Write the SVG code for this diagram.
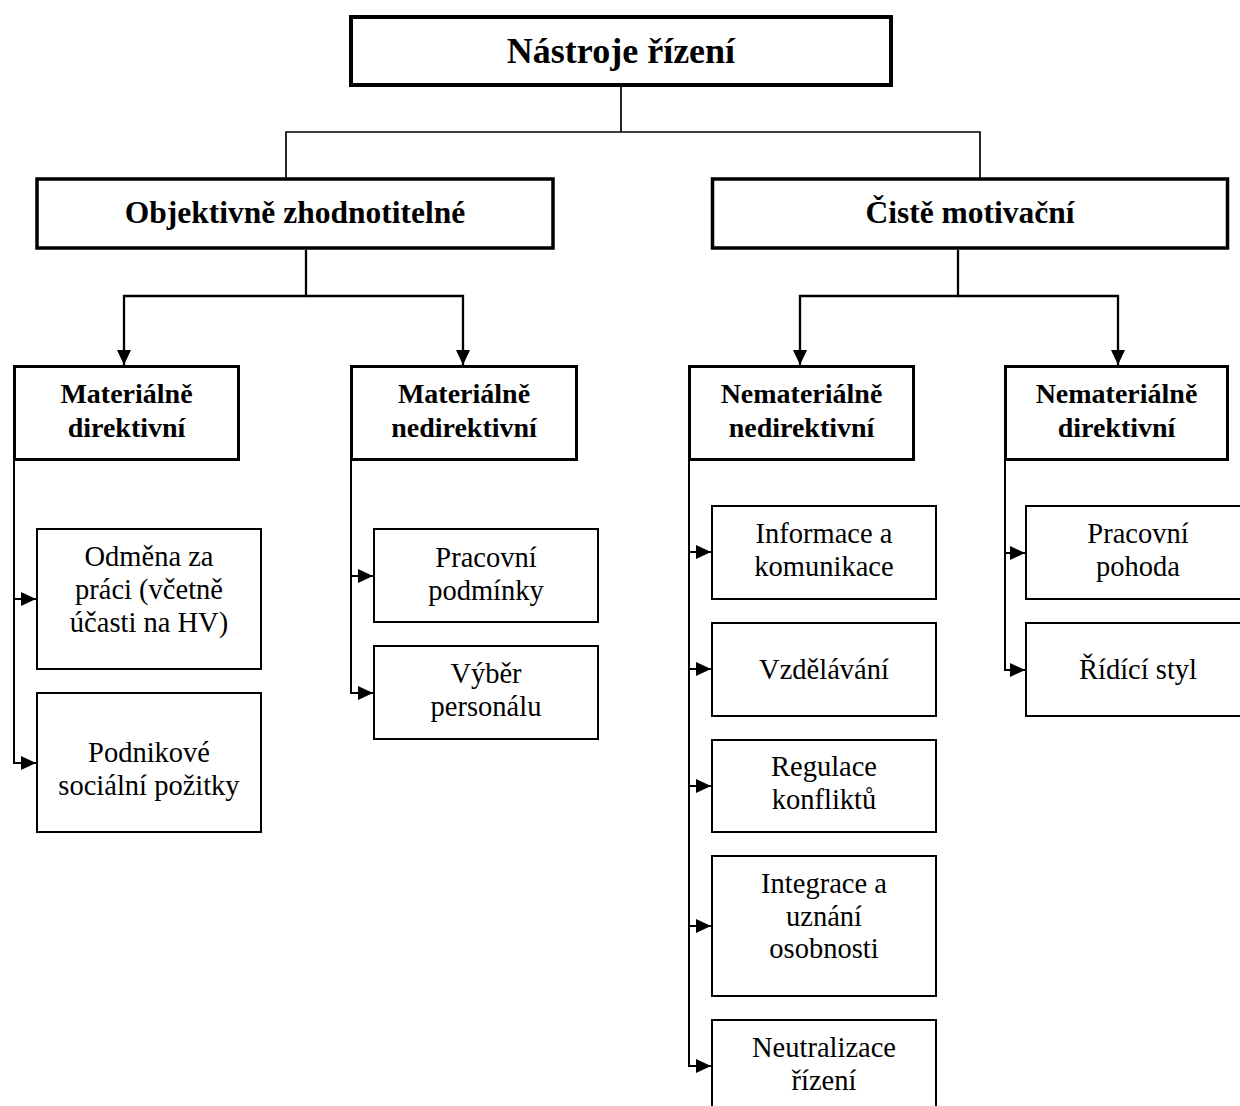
<svg xmlns="http://www.w3.org/2000/svg" width="1240" height="1106" viewBox="0 0 1240 1106">
  <style>
    .box { fill: #ffffff; stroke: #000000; }
    .root { stroke-width: 4; }
    .l1 { stroke-width: 3.5; }
    .l2 { stroke-width: 3; }
    .leaf { stroke-width: 2; }
    text { font-family: "Liberation Serif", "Times New Roman", serif; fill: #000000; text-anchor: middle; }
    .t0 { font-size: 36px; font-weight: bold; }
    .t1 { font-size: 31.5px; font-weight: bold; }
    .t2 { font-size: 28px; font-weight: bold; }
    .t3 { font-size: 28.5px; }
    .wire { fill: none; stroke: #000000; stroke-width: 2; }
    .thin { stroke-width: 1.7; }
    .mid { stroke-width: 2.3; }
  </style>
  <defs>
    <marker id="arrow" markerUnits="userSpaceOnUse" markerWidth="15" markerHeight="14" refX="15" refY="7" orient="auto">
      <path d="M0,0 L15,7 L0,14 z" fill="#000000"/>
    </marker>
  </defs>

  <rect width="1240" height="1106" fill="#ffffff"/>

  <!-- connectors -->
  <g id="connectors">
    <path class="wire thin" d="M621 87 V132 M286 178 V132 H980 V178"/>
    <path class="wire mid" d="M306 250 V296 H124 V365" marker-end="url(#arrow)"/>
    <path class="wire mid" d="M306 296 H463 V365" marker-end="url(#arrow)"/>
    <path class="wire mid" d="M958 250 V296 H800 V365" marker-end="url(#arrow)"/>
    <path class="wire mid" d="M958 296 H1118 V365" marker-end="url(#arrow)"/>

    <path class="wire" d="M14 461 V763 H36" marker-end="url(#arrow)"/>
    <path class="wire" d="M14 599 H36" marker-end="url(#arrow)"/>

    <path class="wire" d="M351 461 V693 H373" marker-end="url(#arrow)"/>
    <path class="wire" d="M351 576 H373" marker-end="url(#arrow)"/>

    <path class="wire" d="M689 461 V1066 H711" marker-end="url(#arrow)"/>
    <path class="wire" d="M689 552 H711" marker-end="url(#arrow)"/>
    <path class="wire" d="M689 669 H711" marker-end="url(#arrow)"/>
    <path class="wire" d="M689 786 H711" marker-end="url(#arrow)"/>
    <path class="wire" d="M689 926 H711" marker-end="url(#arrow)"/>

    <path class="wire" d="M1005 461 V670 H1025" marker-end="url(#arrow)"/>
    <path class="wire" d="M1005 553 H1025" marker-end="url(#arrow)"/>
  </g>

  <!-- root -->
  <g id="nastroje-rizeni">
    <rect class="box root" x="351" y="17" width="540" height="68"/>
    <text class="t0" x="621" y="63">Nástroje řízení</text>
  </g>

  <!-- first level -->
  <g id="objektivne-zhodnotitelne">
    <rect class="box l1" x="37" y="179" width="516" height="69"/>
    <text class="t1" x="295" y="223">Objektivně zhodnotitelné</text>
  </g>
  <g id="ciste-motivacni">
    <rect class="box l1" x="712.5" y="179" width="515" height="69"/>
    <text class="t1" x="970" y="223">Čistě motivační</text>
  </g>

  <!-- second level -->
  <g id="materialne-direktivni">
    <rect class="box l2" x="14.5" y="366.5" width="224" height="93"/>
    <text class="t2" x="126.5" y="403">Materiálně</text>
    <text class="t2" x="126.5" y="437">direktivní</text>
  </g>
  <g id="materialne-nedirektivni">
    <rect class="box l2" x="351.5" y="366.5" width="225" height="93"/>
    <text class="t2" x="464" y="403">Materiálně</text>
    <text class="t2" x="464" y="437">nedirektivní</text>
  </g>
  <g id="nematerialne-nedirektivni">
    <rect class="box l2" x="689.5" y="366.5" width="224" height="93"/>
    <text class="t2" x="801.5" y="403">Nemateriálně</text>
    <text class="t2" x="801.5" y="437">nedirektivní</text>
  </g>
  <g id="nematerialne-direktivni">
    <rect class="box l2" x="1005.5" y="366.5" width="222" height="93"/>
    <text class="t2" x="1116.5" y="403">Nemateriálně</text>
    <text class="t2" x="1116.5" y="437">direktivní</text>
  </g>

  <!-- leaves -->
  <g id="odmena-za-praci">
    <rect class="box leaf" x="37" y="529" width="224" height="140"/>
    <text class="t3" x="149" y="566">Odměna za</text>
    <text class="t3" x="149" y="599">práci (včetně</text>
    <text class="t3" x="149" y="632">účasti na HV)</text>
  </g>
  <g id="podnikove-socialni-pozitky">
    <rect class="box leaf" x="37" y="693" width="224" height="139"/>
    <text class="t3" x="149" y="762">Podnikové</text>
    <text class="t3" x="149" y="795">sociální požitky</text>
  </g>
  <g id="pracovni-podminky">
    <rect class="box leaf" x="374" y="529" width="224" height="93"/>
    <text class="t3" x="486" y="567">Pracovní</text>
    <text class="t3" x="486" y="600">podmínky</text>
  </g>
  <g id="vyber-personalu">
    <rect class="box leaf" x="374" y="646" width="224" height="93"/>
    <text class="t3" x="486" y="683">Výběr</text>
    <text class="t3" x="486" y="716">personálu</text>
  </g>
  <g id="informace-a-komunikace">
    <rect class="box leaf" x="712" y="506" width="224" height="93"/>
    <text class="t3" x="824" y="543">Informace a</text>
    <text class="t3" x="824" y="576">komunikace</text>
  </g>
  <g id="vzdelavani">
    <rect class="box leaf" x="712" y="623" width="224" height="93"/>
    <text class="t3" x="824" y="679">Vzdělávání</text>
  </g>
  <g id="regulace-konfliktu">
    <rect class="box leaf" x="712" y="740" width="224" height="92"/>
    <text class="t3" x="824" y="776">Regulace</text>
    <text class="t3" x="824" y="809">konfliktů</text>
  </g>
  <g id="integrace-a-uznani-osobnosti">
    <rect class="box leaf" x="712" y="856" width="224" height="140"/>
    <text class="t3" x="824" y="893">Integrace a</text>
    <text class="t3" x="824" y="926">uznání</text>
    <text class="t3" x="824" y="958">osobnosti</text>
  </g>
  <g id="neutralizace-rizeni">
    <rect class="box leaf" x="712" y="1020" width="224" height="93"/>
    <text class="t3" x="824" y="1057">Neutralizace</text>
    <text class="t3" x="824" y="1090">řízení</text>
  </g>
  <g id="pracovni-pohoda">
    <rect class="box leaf" x="1026" y="506" width="224" height="93"/>
    <text class="t3" x="1138" y="543">Pracovní</text>
    <text class="t3" x="1138" y="576">pohoda</text>
  </g>
  <g id="ridici-styl">
    <rect class="box leaf" x="1026" y="623" width="224" height="93"/>
    <text class="t3" x="1138" y="679">Řídící styl</text>
  </g>
</svg>
